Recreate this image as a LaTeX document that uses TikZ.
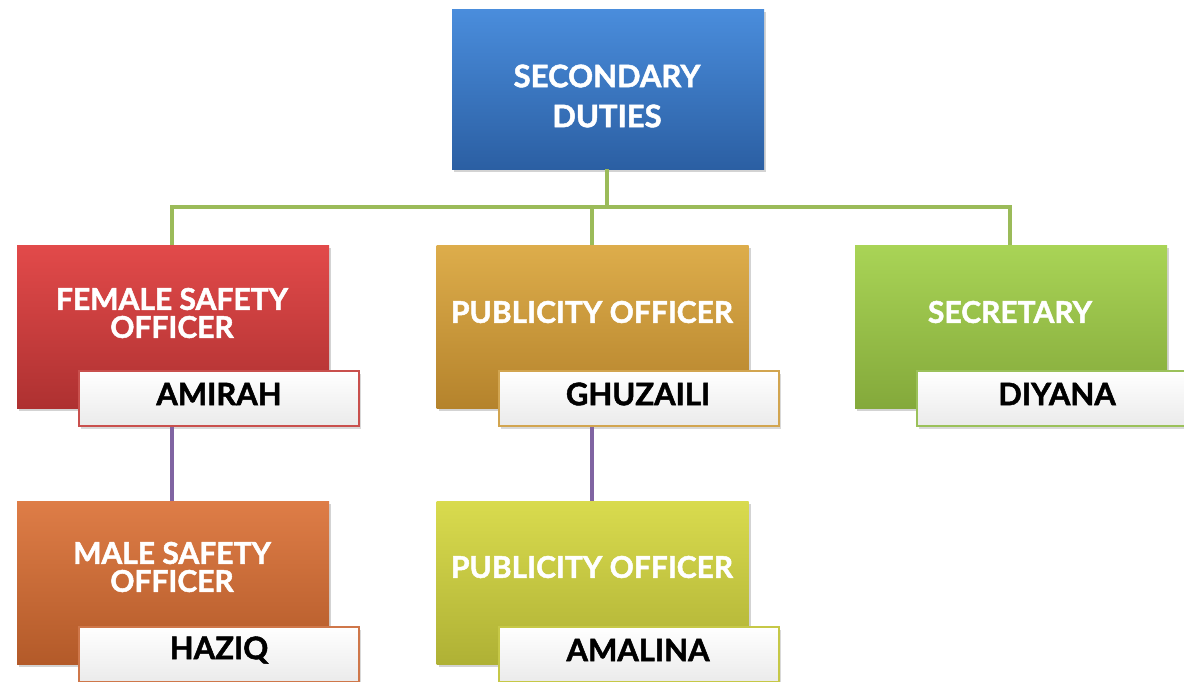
\documentclass[tikz,border=0pt]{standalone}
\usepackage{fontspec}
\setmainfont{Lato}
\newfontfamily\heavy{Lato}[BoldFeatures={FakeBold=1.6}]
\usetikzlibrary{shadows}
\definecolor{blueT}{HTML}{4A8DDC}\definecolor{blueB}{HTML}{2B5FA3}
\definecolor{redT}{HTML}{E24A4A}\definecolor{redB}{HTML}{AE3131}
\definecolor{goldT}{HTML}{DDAD4B}\definecolor{goldB}{HTML}{B5832C}
\definecolor{grnT}{HTML}{A9D456}\definecolor{grnB}{HTML}{84A93B}
\definecolor{orgT}{HTML}{DE7D47}\definecolor{orgB}{HTML}{B35A29}
\definecolor{ylwT}{HTML}{D9DB4E}\definecolor{ylwB}{HTML}{AFB135}
\definecolor{redE}{HTML}{C9504D}\definecolor{goldE}{HTML}{D2A550}
\definecolor{grnE}{HTML}{9BC15A}\definecolor{orgE}{HTML}{CF774A}
\definecolor{ylwE}{HTML}{C6C847}
\definecolor{lineG}{HTML}{9BBB59}\definecolor{lineP}{HTML}{8064A2}
\tikzset{
  rolebox/.style={rectangle, minimum width=312pt, minimum height=163pt, inner sep=0pt,
    drop shadow={shadow xshift=2pt, shadow yshift=-3pt, opacity=0.35}},
  namebox/.style={rectangle, minimum width=280pt, minimum height=55pt, inner sep=0pt,
    line width=2pt, top color=white, bottom color=black!8,
    drop shadow={shadow xshift=2pt, shadow yshift=-3pt, opacity=0.3}},
  titletext/.style={text=white, font=\heavy\bfseries\fontsize{30}{28}\selectfont, align=center, inner sep=0pt},
  nametext/.style={text=black, font=\heavy\bfseries\fontsize{31}{28}\selectfont, inner sep=0pt},
  conG/.style={draw=lineG, line width=4.5pt},
  conP/.style={draw=lineP, line width=4.5pt},
}
\begin{document}
\begin{tikzpicture}[x=1pt,y=-1pt]
\useasboundingbox (0,0) rectangle (1184,681);
\coordinate (busL) at (172,207);
\coordinate (busR) at (1010,207);
\coordinate (busTop) at (607,207);
\coordinate (busMid) at (592,207);
% boxes
\node[rolebox, top color=blueT, bottom color=blueB, minimum height=160pt] (sd) at (608,89) {};
\node[rolebox, top color=redT, bottom color=redB] (fso) at (173,326.5) {};
\node[rolebox, top color=goldT, bottom color=goldB] (po1) at (592.5,326.5) {};
\node[rolebox, top color=grnT, bottom color=grnB] (sec) at (1011,326.5) {};
\node[rolebox, top color=orgT, bottom color=orgB] (mso) at (173,582.5) {};
\node[rolebox, top color=ylwT, bottom color=ylwB] (po2) at (592.5,582.5) {};
% connectors
\draw[conG] (sd.south -| busTop) -- (busTop);
\draw[conG] (busL |- fso.north) -- (busL) -- (busR) -- (busR |- sec.north);
\draw[conG] (busMid) -- (busMid |- po1.north);
% titles
\node[titletext, font=\heavy\bfseries\fontsize{31}{28}\selectfont] (tsd) at (607,96) {SECONDARY\\[12pt]DUTIES};
\node[titletext] (tfso) at (172,313) {FEMALE SAFETY\\OFFICER};
\node[titletext] (tpo1) at (592,312) {PUBLICITY OFFICER};
\node[titletext] (tsec) at (1010,312) {SECRETARY};
\node[titletext] (tmso) at (172,567) {MALE SAFETY\\OFFICER};
\node[titletext] (tpo2) at (592,567) {PUBLICITY OFFICER};
% name boxes
\node[namebox, draw=redE] (n1) at (219,398.5) {};
\node[namebox, draw=goldE] (n2) at (638.5,398.5) {};
\node[namebox, draw=grnE] (n3) at (1057,398.5) {};
\node[namebox, draw=orgE] (n4) at (219,654.5) {};
\node[namebox, draw=ylwE] (n5) at (638.5,654.5) {};
% purple connectors
\draw[conP] (n1.south -| busL) -- (busL |- mso.north);
\draw[conP] (n2.south -| busMid) -- (busMid |- po2.north);
% names
\node[nametext] (a1) at (219,394) {AMIRAH};
\node[nametext] (a2) at (638,394) {GHUZAILI};
\node[nametext] (a3) at (1057,394) {DIYANA};
\node[nametext] (a4) at (219,650) {HAZIQ};
\node[nametext] (a5) at (638,650) {AMALINA};
\end{tikzpicture}
\end{document}
